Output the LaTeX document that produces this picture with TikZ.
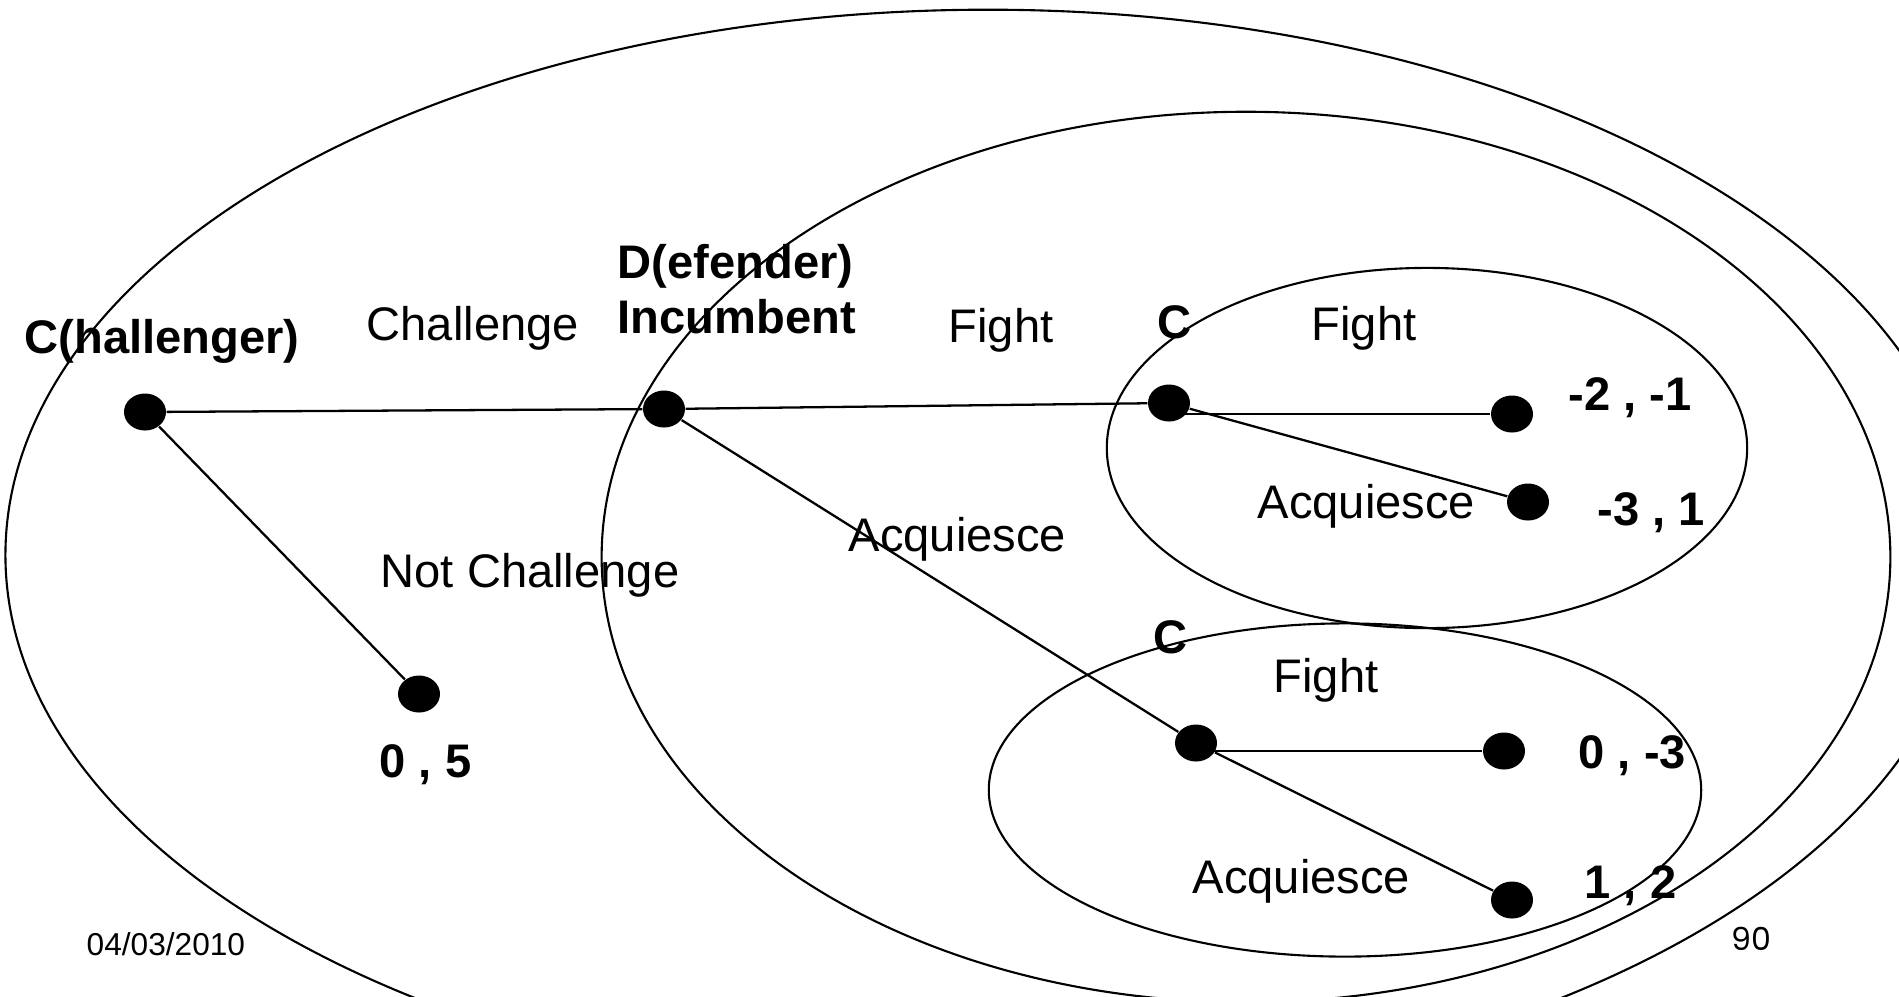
\documentclass[tikz,border=0pt]{standalone}
\usepackage{fontspec}
\setmainfont{Liberation Sans}
\newfontfamily\pagenofont{Poppins}
\usetikzlibrary{shapes.geometric}
\begin{document}
\begin{tikzpicture}[x=0.01cm,y=-0.01cm,
  region/.style={draw, line width=0.6pt},
  move/.style={draw, line width=0.65pt},
  dot/.style={ellipse, fill=black, minimum width=0.42cm, minimum height=0.37cm, inner sep=0pt},
  lbl/.style={anchor=base west, inner sep=0pt, font=\fontsize{13.4pt}{16pt}\selectfont},
  player/.style={anchor=base west, inner sep=0pt, font=\fontsize{13.4pt}{16pt}\selectfont\bfseries},
  foot/.style={anchor=base west, inner sep=0pt, font=\fontsize{9pt}{11pt}\selectfont}]
\useasboundingbox (0,0) rectangle (1899,996);
\clip (0,0) rectangle (1899,996);

% nested information sets / subgames
\draw[region] (988,555) ellipse [x radius=9.82cm, y radius=5.45cm];
\draw[region] (1246,557) ellipse [x radius=6.44cm, y radius=4.45cm];
\draw[region] (1427,448) ellipse [x radius=3.2cm, y radius=1.8cm];
\draw[region] (1345,790) ellipse [x radius=3.56cm, y radius=1.665cm];

% decision nodes and terminal nodes
\node[dot] (c0) at (145,412) {};
\node[dot] (d)  at (664,409) {};
\node[dot] (ct) at (1169,403) {};
\node[dot] (cb) at (1196,743) {};
\node[dot] (t1) at (419,694) {};
\node[dot] (t2) at (1512,414) {};
\node[dot] (t3) at (1528,502) {};
\node[dot] (t4) at (1504,751) {};
\node[dot] (t5) at (1512,900) {};

% moves
\draw[move] (c0) -- (d);
\draw[move] (c0) -- (t1);
\draw[move] (d) -- (ct);
\draw[move] (d) -- (cb);
\draw[move] (ct.center |- t2.center) -- (t2);
\draw[move] (ct) -- (t3);
\draw[move] (cb.center |- t4.center) -- (t4);
\draw[move] (cb) -- (t5);

% players
\node[player] (lc0) at (24,353) {C(hallenger)};
\node[player] (ld1) at (617,278) {D(efender)};
\node[player] (ld2) at (617,333) {Incumbent};
\node[player] (lct) at (1157,338) {C};
\node[player] (lcb) at (1153,653) {C};

% actions
\node[lbl] (a1) at (366,340) {Challenge};
\node[lbl] (a2) at (380,587) {Not Challenge};
\node[lbl] (a3) at (948,342) {Fight};
\node[lbl] (a4) at (848,551) {Acquiesce};
\node[lbl] (a5) at (1311,340) {Fight};
\node[lbl] (a6) at (1257,518) {Acquiesce};
\node[lbl] (a7) at (1273,692) {Fight};
\node[lbl] (a8) at (1192,893) {Acquiesce};

% payoffs
\node[player] (p1) at (379,777) {0 , 5};
\node[player] (p2) at (1568,410) {-2 , -1};
\node[player] (p3) at (1597,525) {-3 , 1};
\node[player] (p4) at (1578,768) {0 , -3};
\node[player] (p5) at (1584,898) {1 , 2};

% footer
\node[foot] (date) at (86,955) {04/03/2010};
\node[foot, font=\fontsize{9pt}{11pt}\pagenofont] (page) at (1731,950) {90};
\end{tikzpicture}
\end{document}
